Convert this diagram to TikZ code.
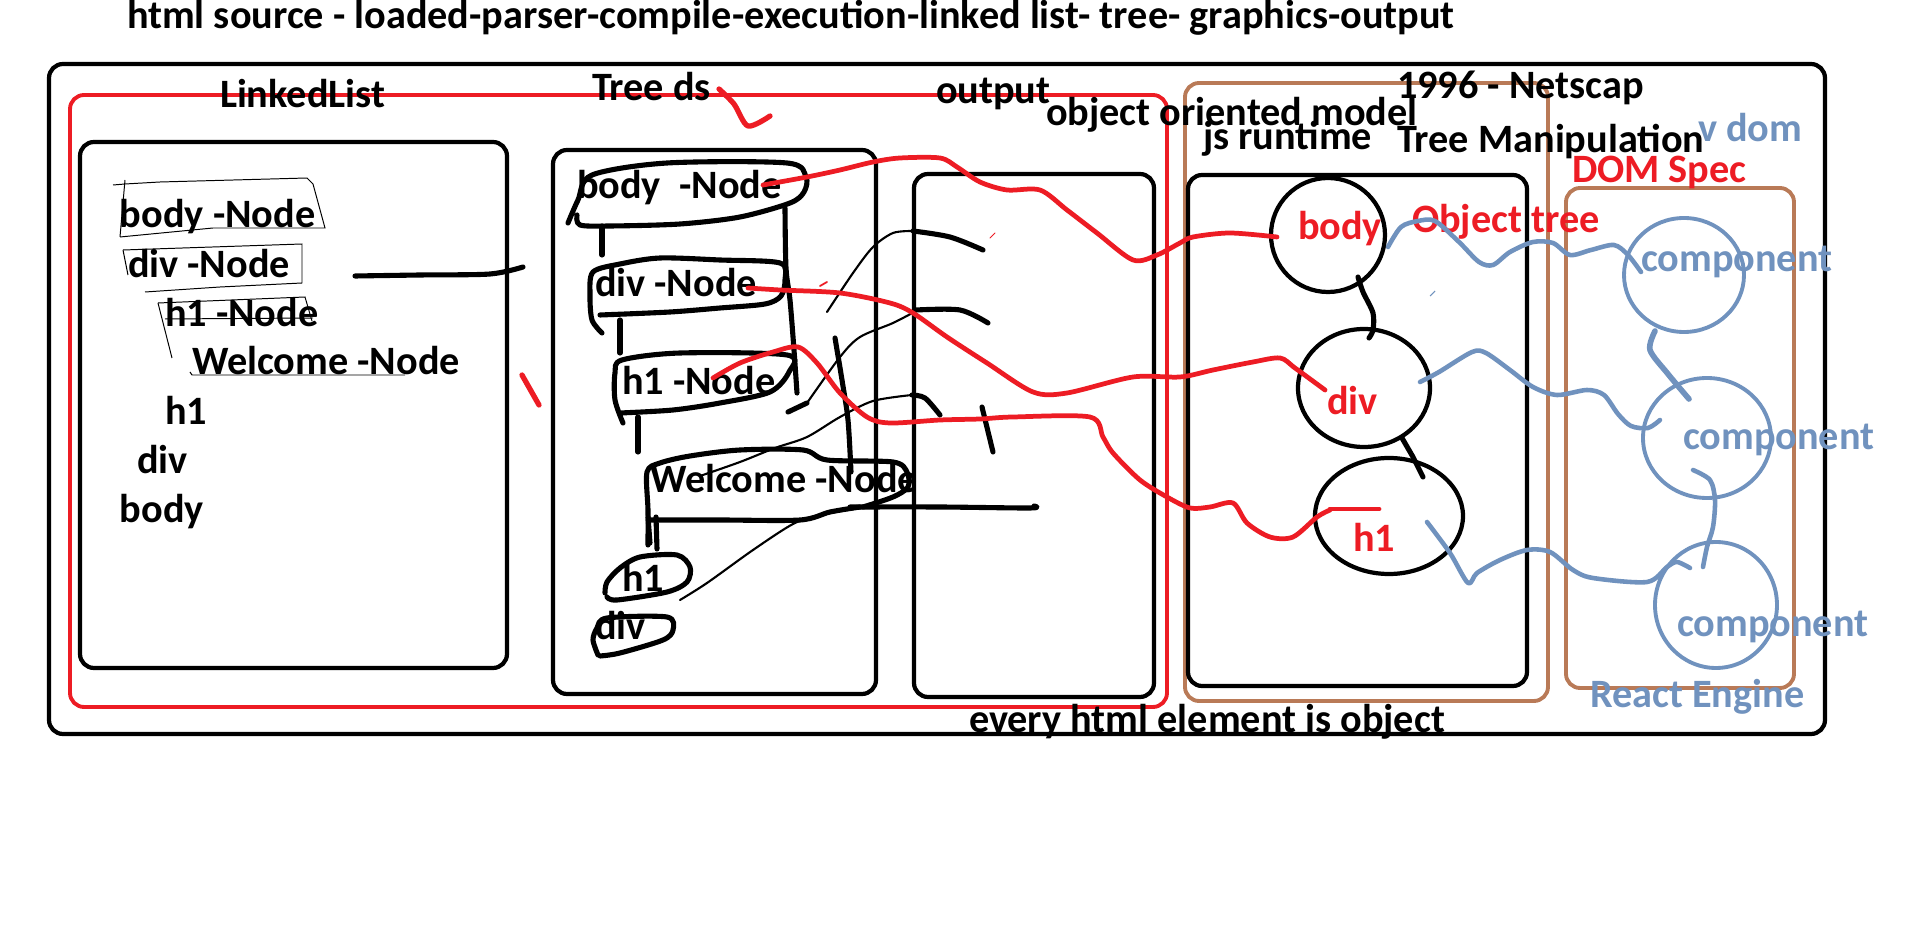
\documentclass[tikz,border=0pt]{standalone}
\usepackage{fontspec}
\setmainfont{Carlito}
\definecolor{pred}{HTML}{ED1C24}
\definecolor{pbrown}{HTML}{B97A57}
\definecolor{pblue}{HTML}{7092BE}
\begin{document}
\begin{tikzpicture}[x=0.01cm,y=-0.01cm,
  lbl/.style={anchor=base west,inner sep=0pt,outer sep=0pt,font=\fontsize{11.45}{13}\selectfont\bfseries},
  frame/.style={draw,line width=1.2pt,rounded corners=4pt},
  redframe/.style={draw=pred,line width=1.1pt,rounded corners=4pt},
  brownframe/.style={draw=pbrown,line width=1.1pt,rounded corners=4pt},
  heavy/.style={line width=1.45pt,line cap=round,line join=round},
  thinink/.style={line width=0.6pt,line cap=round},
  hair/.style={line width=0.28pt},
  redink/.style={draw=pred,line width=1.35pt,line cap=round,line join=round},
  blueink/.style={draw=pblue,line width=1.3pt,line cap=round,line join=round},
  sm/.style={smooth,tension=0.5},
]
\useasboundingbox (0,0) rectangle (1917,952);
\fill[white] (0,0) rectangle (1917,952);

% ---------- frames ----------
\path[frame] (49,64) rectangle (1825,734);
\path[redframe] (70,95) rectangle (1167,707);
\path[frame] (80,142) rectangle (507,668);
\path[frame] (553,150) rectangle (876,694);
\path[frame] (914,174) rectangle (1154,697);
\path[brownframe] (1185,83) rectangle (1548,701);
\path[frame] (1188,175) rectangle (1527,686);
\path[brownframe] (1566,188) rectangle (1794,688);

% ---------- circles ----------
\draw[line width=1.2pt] (1328,235) ellipse [x radius=57,y radius=57];
\draw[line width=1.2pt] (1364,388) ellipse [x radius=66,y radius=59];
\draw[line width=1.2pt] (1389,516) ellipse [x radius=74,y radius=58];
\draw[pblue,line width=1.1pt] (1684,275) ellipse [x radius=60,y radius=57];
\draw[pblue,line width=1.1pt] (1707,438) ellipse [x radius=64,y radius=60];
\draw[pblue,line width=1.1pt] (1716,605) ellipse [x radius=61,y radius=63];

% ---------- texts ----------
\node[lbl] (title) at (127,29) {html source - loaded-parser-compile-execution-linked list- tree- graphics-output};
\node[lbl] (ll) at (220,108) {LinkedList};
\node[lbl] (treeds) at (592,101) {Tree ds};
\node[lbl] (output) at (936,104) {output};
\node[lbl] (oom) at (1046,126) {object oriented model};
\node[lbl] (netscap) at (1397,99) {1996 - Netscap};
\node[lbl] (jsrt) at (1203,150) {js runtime};
\node[lbl] (treeman) at (1397,153) {Tree Manipulation};
\node[lbl,text=pblue] (vdom) at (1698,142) {v dom};
\node[lbl,text=pred] (domspec) at (1572,183) {DOM Spec};
\node[lbl,text=pred] (objtree) at (1412,233) {Object tree};
\node[lbl,text=pblue] (react) at (1590,708) {React Engine};
\node[lbl] (every) at (969,733) {every html element is object};

% linked list column
\node[lbl] (l1) at (120,228) {body -Node};
\node[lbl] (l2) at (128,278) {div -Node};
\node[lbl] (l3) at (165,327) {h1 -Node};
\node[lbl] (l4) at (192,375) {Welcome -Node};
\node[lbl] (l5) at (165,425) {h1};
\node[lbl] (l6) at (137,474) {div};
\node[lbl] (l7) at (120,523) {body};

% tree column
\node[lbl] (t1) at (577,199) {body\ \ -Node};
\node[lbl] (t2) at (595,297) {div -Node};
\node[lbl] (t3) at (622,395) {h1 -Node};
\node[lbl] (t4) at (650,493) {Welcome -Node};
\node[lbl] (t5) at (622,592) {h1};
\node[lbl] (t6) at (595,640) {div};

% object nodes
\node[lbl,text=pred] (obody) at (1298,240) {body};
\node[lbl,text=pred] (odiv) at (1327,415) {div};
\node[lbl,text=pred] (oh1) at (1353,552) {h1};
\node[lbl,text=pblue] (c1) at (1641,272) {component};
\node[lbl,text=pblue] (c2) at (1683,450) {component};
\node[lbl,text=pblue] (c3) at (1677,637) {component};

% ---------- linked list sketch marks ----------
\draw[hair] (113,185) -- (125,184) -- (160,182) -- (307,178) -- (313,184) -- (325,228) -- (213,228) -- (120,237);
\draw[hair] (125,180) -- (120,237);
\draw[hair] (123,250) -- (302,244) -- (302,283) -- (220,287) -- (145,292);
\draw[hair] (123,250) -- (128,275);
\draw[hair] (158,303) -- (305,297) -- (312,321);
\draw[hair] (158,303) -- (172,358);
\draw[hair] (165,319) -- (313,318);
\draw[hair] (190,372) -- (192,375) -- (405,375);
\draw[heavy] plot[sm] coordinates {(355,276) (420,275) (490,274) (523,267)};
\draw[redink,line width=1.5pt] (522,375) -- (539,405);

% ---------- tree ellipses ----------
\draw[heavy] plot[sm] coordinates {(568,223) (578,200) (592,175) (667,163) (787,163) (806,177) (804,192) (790,203) (740,217) (680,224) (610,226) (580,225) (577,215)};
\draw[heavy] plot[sm] coordinates {(602,333) (592,320) (590,295) (593,272) (620,264) (660,258) (720,260) (780,263) (785,280) (781,296) (765,304) (720,308) (670,312) (600,315)};
\draw[heavy] plot[sm] coordinates {(623,423) (615,400) (615,373) (622,360) (680,353) (787,355) (789,372) (770,392) (720,403) (673,410) (620,413)};
\draw[heavy] plot[sm] coordinates {(648,545) (648,510) (647,472) (660,463) (690,456) (740,450) (803,450) (827,460) (893,462) (907,472) (908,487) (893,497) (863,507)};
\draw[heavy] plot[sm] coordinates {(650,520) (720,520) (800,520) (830,512) (860,507)};
\draw[heavy] plot[sm] coordinates {(850,507) (940,507) (1030,508) (1034,506)};
\draw[heavy] plot[sm] coordinates {(605,593) (607,582) (620,568) (640,557) (677,555) (690,567) (687,582) (667,592) (617,600) (607,597)};
\draw[heavy] plot[sm] coordinates {(598,655) (593,640) (597,628) (607,618) (667,617) (673,630) (663,640) (620,653) (600,656)};

% tree links
\draw[heavy] (602,226) -- (602,255);
\draw[heavy] (620,320) -- (620,353);
\draw[heavy] (638,417) -- (638,452);
\draw[heavy] (648,517) -- (650,543);
\draw[heavy] (656,517) -- (657,549);
\draw[heavy] plot[sm] coordinates {(785,208) (786,268) (790,300) (794,350) (797,393)};
\draw[heavy] plot[sm] coordinates {(835,338) (842,380) (848,420) (851,472)};

% thin strokes to output box and its marks
\draw[thinink] plot[sm] coordinates {(827,312) (853,273) (873,247) (893,233) (913,231)};
\draw[heavy] plot[sm] coordinates {(913,231) (950,237) (983,250)};
\draw[heavy] (788,412) -- (807,403);
\draw[thinink] plot[sm] coordinates {(807,403) (840,357) (860,337) (893,323) (916,311)};
\draw[heavy] plot[sm] coordinates {(916,310) (960,310) (988,323)};
\draw[thinink] plot[sm] coordinates {(700,476) (740,462) (775,448) (807,437) (840,417) (873,401) (912,395)};
\draw[heavy] plot[sm] coordinates {(912,395) (925,398) (940,415)};
\draw[thinink] plot[sm] coordinates {(680,600) (707,583) (753,550) (793,524) (820,515) (860,508)};
\draw[heavy] (982,407) -- (993,452);

% ---------- red strokes ----------
\draw[redink,line width=1.5pt] plot[sm] coordinates {(719,89) (734,104) (748,126) (770,116)};
\draw[redink] plot[sm] coordinates {(763,185) (807,177) (840,170) (873,162) (900,158) (940,158) (957,167) (980,182) (1007,190) (1040,190) (1067,210) (1097,233) (1133,260) (1157,255) (1180,243) (1193,237) (1230,233) (1277,237)};
\draw[redink] plot[sm] coordinates {(748,288) (780,290) (840,293) (890,303) (913,313) (947,337) (987,363) (1033,392) (1067,393) (1133,377) (1180,377) (1213,370) (1253,362) (1280,358) (1295,368) (1325,390)};
\draw[redink] plot[sm] coordinates {(713,378) (740,363) (773,352) (798,347) (817,363) (840,393) (867,417) (890,423) (940,420) (980,419) (1013,417) (1090,417) (1103,437) (1113,453) (1140,480) (1167,497) (1190,508) (1210,507) (1233,503) (1247,523) (1270,537) (1293,537) (1317,517) (1330,510)};
\draw[redink] (1330,509) -- (1379,509);
\draw[redink,line width=0.5pt] (820,286) -- (827,282);
\draw[redink,line width=0.3pt] (990,238) -- (995,233);

% ---------- black links between objects ----------
\draw[heavy] plot[sm] coordinates {(1358,277) (1363,292) (1373,313) (1373,330) (1369,338)};
\draw[heavy] (1402,438) -- (1413,457) -- (1423,477);

% ---------- blue strokes ----------
\draw[blueink] plot[sm] coordinates {(1388,247) (1401,227) (1418,221) (1435,221) (1459,242) (1479,262) (1493,265) (1510,252) (1533,242) (1553,243) (1570,255) (1591,250) (1614,245) (1628,255) (1641,272)};
\draw[blueink] plot[sm] coordinates {(1420,382) (1439,372) (1472,352) (1486,353) (1510,370) (1533,387) (1557,395) (1587,390) (1604,395) (1618,414) (1631,426) (1648,428) (1660,420)};
\draw[blueink] plot[sm] coordinates {(1427,522) (1450,553) (1468,583) (1477,573) (1500,560) (1527,550) (1550,552) (1573,570) (1593,578) (1647,582) (1667,567) (1677,562) (1690,568)};
\draw[blueink,line width=1.6pt] plot[sm] coordinates {(1655,331) (1650,350) (1668,374) (1689,399)};
\draw[blueink] plot[sm] coordinates {(1693,470) (1710,480) (1715,500) (1713,527) (1707,547) (1703,567)};
\draw[pblue,line width=0.3pt] (1430,296) -- (1435,291);
\end{tikzpicture}
\end{document}
